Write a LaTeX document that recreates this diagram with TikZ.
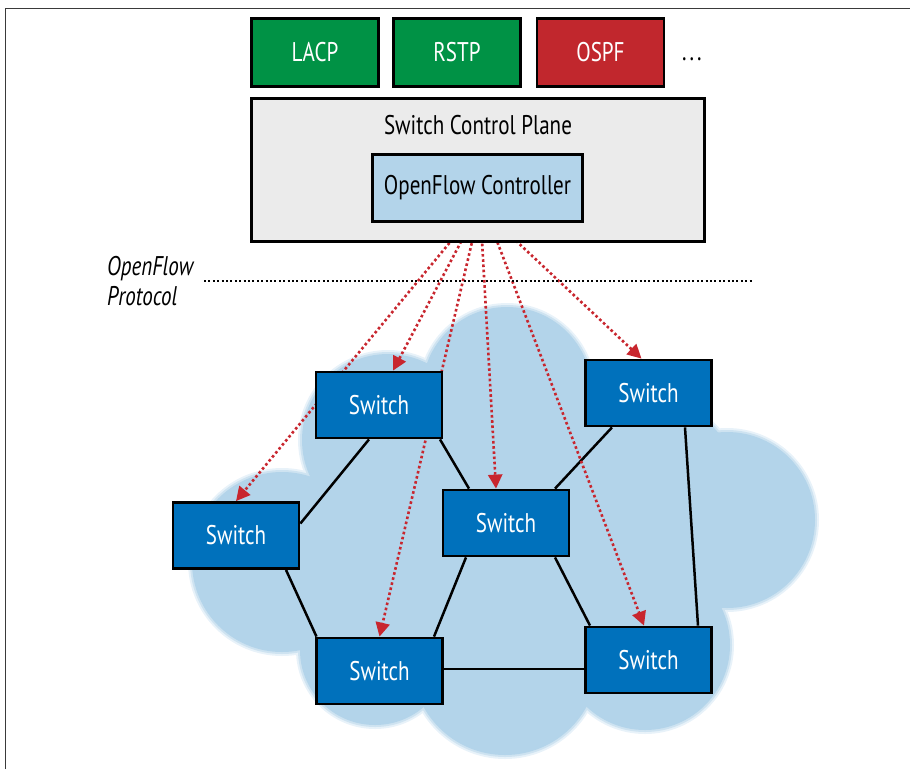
\documentclass[tikz,border=0pt]{standalone}
\usepackage{fontspec}
\setmainfont[FakeStretch=0.78]{PT Sans}
\usetikzlibrary{arrows.meta,calc}
\definecolor{lacpgreen}{HTML}{009245}
\definecolor{ospfred}{HTML}{C1272D}
\definecolor{planegray}{HTML}{EBEBEB}
\definecolor{ctrlblue}{HTML}{B3D4EA}
\definecolor{swblue}{HTML}{0071BC}
\definecolor{cloudblue}{HTML}{B3D4EA}
\definecolor{arrowred}{HTML}{C8262E}
\definecolor{framegray}{HTML}{3A3A3A}
\pgfdeclarelayer{cloudlayer}
\pgfdeclarelayer{linklayer}
\pgfsetlayers{cloudlayer,linklayer,main}
\begin{document}
\begin{tikzpicture}[x=1pt,y=-1pt,
  lbl/.style={font=\fontsize{27}{30}\selectfont},
  protobox/.style={draw=black, line width=2.8pt, minimum width=127pt, minimum height=68pt, inner sep=0pt, text=white, lbl},
  switchbox/.style={draw=black, line width=2.8pt, fill=swblue, minimum width=126pt, minimum height=66pt, inner sep=0pt, text=white, lbl},
  link/.style={line width=2.5pt, black},
  ofarrow/.style={arrowred, line width=2.6pt, dash pattern=on 2.6pt off 2.6pt, -{Triangle[length=14pt,width=14pt]}},
]
\useasboundingbox (0,0) rectangle (910,769);
\draw[framegray, line width=1.4pt] (5.5,769) -- (5.5,8.5) -- (910,8.5);

% protocol boxes
\node[protobox, fill=lacpgreen] (lacp) at (315,52.5) {LACP};
\node[protobox, fill=lacpgreen] (rstp) at (457,52.5) {RSTP};
\node[protobox, fill=ospfred] (ospf) at (600.5,52.5) {OSPF};
\node[lbl, inner sep=0pt] (dots) at (692,59) {.\hspace{3pt}.\hspace{3pt}.};

% control plane
\node[draw=black, line width=2.8pt, fill=planegray, minimum width=453pt, minimum height=143pt, inner sep=0pt] (plane) at (478,170) {};
\node[lbl, inner sep=0pt] (planelbl) at (478,125) {Switch Control Plane};
\node[draw=black, line width=2.8pt, fill=ctrlblue, minimum width=210pt, minimum height=67pt, inner sep=0pt, lbl] (ctrl) at (477.5,188) {OpenFlow Controller};

% protocol label and separator
\node[lbl, inner sep=0pt, align=left, anchor=west, font=\fontsize{27}{30}\selectfont\itshape] (proto) at (107,281) {OpenFlow\\Protocol};
\coordinate (sepL) at (204,281);
\coordinate (sepR) at (752,281);
\draw[line width=2pt, dash pattern=on 2pt off 2.4pt] (sepL) -- (sepR);

% switches
\node[switchbox] (s1) at (379,405) {Switch};
\node[switchbox] (s2) at (648.5,393) {Switch};
\node[switchbox] (s3) at (236,535.5) {Switch};
\node[switchbox] (s4) at (506,523) {Switch};
\node[switchbox] (s5) at (379.5,671) {Switch};
\node[switchbox] (s6) at (648.5,660) {Switch};

% cloud
\begin{pgfonlayer}{cloudlayer}
  \foreach \grow/\shade in {4/30, 2/65, 0/100}{
    \foreach \cx/\cy/\r in {507/392/85, 727/520/88, 388/440/86, 282/562/90, 505/662/93, 645/645/85, 375/650/75, 540/540/150, 390/545/85, 660/480/75}{
      \fill[cloudblue!\shade!white] (\cx,\cy) circle[radius=\r+\grow];
    }
  }
\end{pgfonlayer}

% links and openflow arrows
\begin{pgfonlayer}{linklayer}
  \draw[link] ([xshift=-10pt]s1.south) -- ([yshift=12pt]s3.east);
  \draw[link] ([xshift=61pt]s1.south) -- ([xshift=-37pt]s4.north);
  \draw[link] ([xshift=-36.5pt]s2.south) -- ([xshift=49pt]s4.north);
  \draw[link] ([xshift=36.5pt]s2.south) -- ([xshift=49.5pt]s6.north);
  \draw[link] ([xshift=50pt]s3.south) -- ([xshift=-63pt]s5.north);
  \draw[link] ([xshift=-40pt]s4.south) -- ([xshift=54.5pt]s5.north);
  \draw[link] ([xshift=49pt]s4.south) -- ([xshift=-58.5pt]s6.north);
  \draw[link] ([yshift=2pt]s5.east) -- ([yshift=-9pt]s6.west);

  \draw[ofarrow] ([xshift=-11.5pt]ctrl.south) -- (s3.north);
  \draw[ofarrow] ([xshift=-6.5pt]ctrl.south) -- ([xshift=14pt]s1.north);
  \draw[ofarrow] ([xshift=-1pt]ctrl.south) -- (s5.north);
  \draw[ofarrow] ([xshift=3.5pt]ctrl.south) -- ([xshift=-10pt]s4.north);
  \draw[ofarrow] ([xshift=12.5pt]ctrl.south) -- ([xshift=-4.5pt]s6.north);
  \draw[ofarrow] ([xshift=19.5pt]ctrl.south) -- ([xshift=-7pt]s2.north);
\end{pgfonlayer}
\end{tikzpicture}
\end{document}
